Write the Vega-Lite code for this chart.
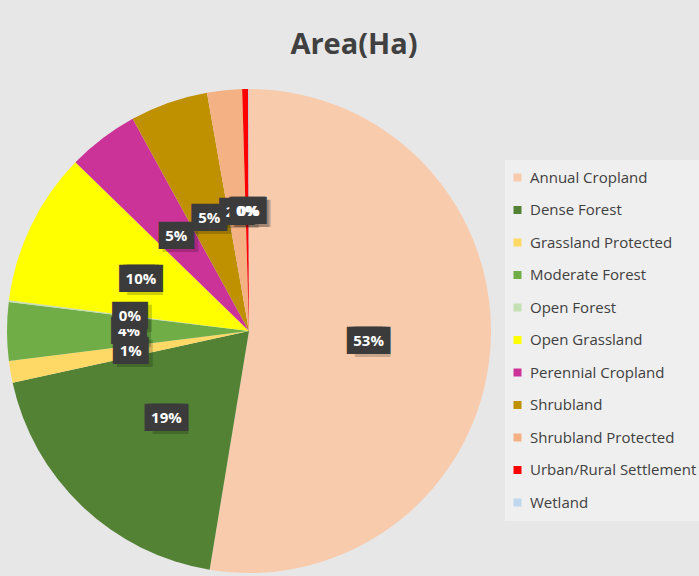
{
  "$schema": "https://vega.github.io/schema/vega-lite/v6.json",
  "width": 484,
  "height": 484,
  "autosize": "none",
  "padding": {"left": 7, "top": 89, "right": 208, "bottom": 3},
  "background": "#e7e7e7",
  "title": {
    "text": "Area(Ha)",
    "font": "Open Sans",
    "fontSize": 29,
    "fontWeight": "bold",
    "color": "#404040",
    "anchor": "middle",
    "frame": "group",
    "baseline": "alphabetic",
    "dx": 105,
    "offset": 6
  },
  "data": {
    "values": [
      {"category": "Annual Cropland", "pct": 52.6},
      {"category": "Dense Forest", "pct": 18.97},
      {"category": "Grassland Protected", "pct": 1.45},
      {"category": "Moderate Forest", "pct": 3.9},
      {"category": "Open Forest", "pct": 0.1},
      {"category": "Open Grassland", "pct": 10.25},
      {"category": "Perennial Cropland", "pct": 4.75},
      {"category": "Shrubland", "pct": 5.2},
      {"category": "Shrubland Protected", "pct": 2.33},
      {"category": "Urban/Rural Settlement", "pct": 0.4},
      {"category": "Wetland", "pct": 0.05}
    ]
  },
  "transform": [
    {"calculate": "format(datum.pct / 100, '.0%')", "as": "label"},
    {"calculate": "indexof(['Open Forest', 'Urban/Rural Settlement', 'Wetland'], datum.category) >= 0 ? 1 : 0", "as": "late"},
    {"calculate": "length(datum.label) > 2 ? 1 : 0", "as": "wide"}
  ],
  "encoding": {
    "theta": {"field": "pct", "type": "quantitative", "stack": true},
    "order": {"field": "category", "sort": "ascending"}
  },
  "layer": [
    {
      "mark": {"type": "arc", "outerRadius": 242},
      "encoding": {
        "color": {
          "field": "category",
          "type": "nominal",
          "scale": {
            "domain": ["Annual Cropland", "Dense Forest", "Grassland Protected", "Moderate Forest", "Open Forest", "Open Grassland", "Perennial Cropland", "Shrubland", "Shrubland Protected", "Urban/Rural Settlement", "Wetland"],
            "range": ["#f8cbad", "#548235", "#ffd966", "#70ad47", "#c5e0b4", "#ffff00", "#cc3399", "#bf9000", "#f4b183", "#ff0000", "#bdd7ee"]
          },
          "legend": {
            "orient": "none",
            "legendX": 498,
            "legendY": 71,
            "title": null,
            "symbolType": "square",
            "symbolSize": 64,
            "symbolStrokeWidth": 0,
            "symbolOffset": -5,
            "labelFont": "Open Sans",
            "labelFontSize": 15,
            "labelColor": "#404040",
            "labelOffset": 5,
            "labelLimit": 300,
            "rowPadding": 16.5,
            "padding": 10,
            "fillColor": "#efefef"
          }
        }
      }
    },
    {
      "mark": {"type": "text", "radius": 120, "text": "██", "font": "DejaVu Sans", "fontSize": 23, "align": "center", "baseline": "middle", "dx": 4, "dy": 3, "color": "#000000", "opacity": 0.18}
    },
    {
      "mark": {"type": "text", "radius": 120, "text": "██", "font": "DejaVu Sans", "fontSize": 23, "align": "center", "baseline": "middle", "color": "#3b3b3b"},
      "encoding": {"opacity": {"condition": {"test": "datum.late == 1", "value": 0}, "value": 1}}
    },
    {
      "mark": {"type": "text", "radius": 120, "text": "██", "font": "DejaVu Sans", "fontSize": 23, "align": "center", "baseline": "middle", "dx": -4, "color": "#3b3b3b"},
      "encoding": {"opacity": {"condition": {"test": "datum.late == 0 && datum.wide == 1", "value": 1}, "value": 0}}
    },
    {
      "mark": {"type": "text", "radius": 120, "text": "██", "font": "DejaVu Sans", "fontSize": 23, "align": "center", "baseline": "middle", "dx": 4, "color": "#3b3b3b"},
      "encoding": {"opacity": {"condition": {"test": "datum.late == 0 && datum.wide == 1", "value": 1}, "value": 0}}
    },
    {
      "mark": {"type": "text", "radius": 120, "font": "Open Sans", "fontSize": 15, "fontWeight": "bold", "align": "center", "baseline": "middle", "color": "#ffffff"},
      "encoding": {"text": {"field": "label"}, "opacity": {"condition": {"test": "datum.late == 1", "value": 0}, "value": 1}}
    },
    {
      "mark": {"type": "text", "radius": 120, "text": "██", "font": "DejaVu Sans", "fontSize": 23, "align": "center", "baseline": "middle", "color": "#3b3b3b"},
      "encoding": {"opacity": {"condition": {"test": "datum.late == 1", "value": 1}, "value": 0}}
    },
    {
      "mark": {"type": "text", "radius": 120, "font": "Open Sans", "fontSize": 15, "fontWeight": "bold", "align": "center", "baseline": "middle", "color": "#ffffff"},
      "encoding": {"text": {"field": "label"}, "opacity": {"condition": {"test": "datum.late == 1", "value": 1}, "value": 0}}
    }
  ],
  "config": {"view": {"stroke": null}}
}
